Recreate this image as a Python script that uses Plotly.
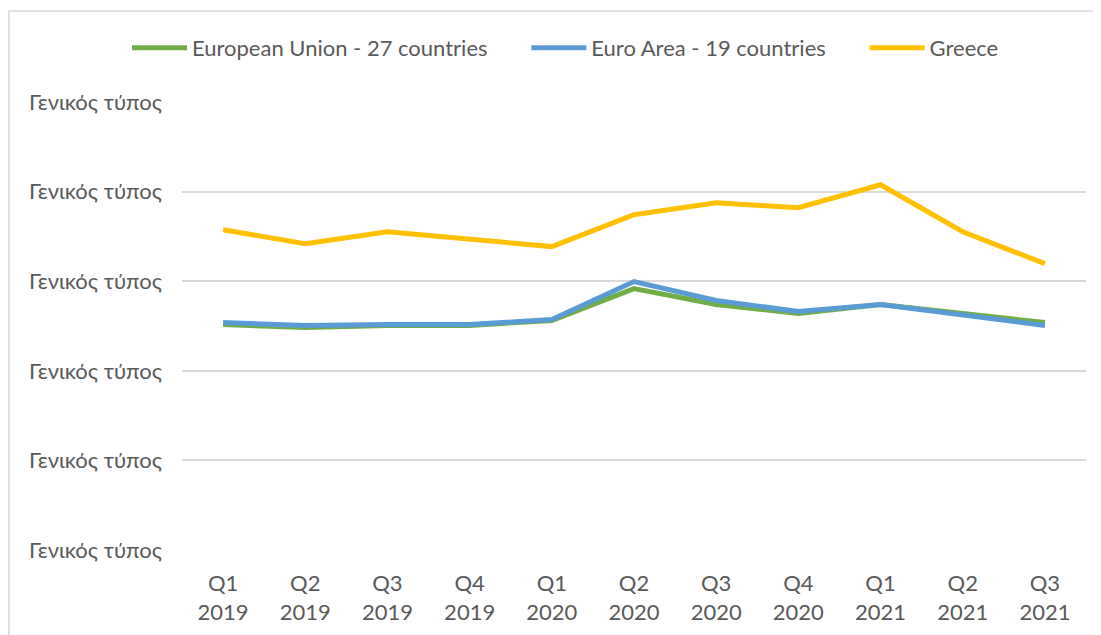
import plotly.graph_objects as go

quarters = ["Q1<br>2019", "Q2<br>2019", "Q3<br>2019", "Q4<br>2019",
            "Q1<br>2020", "Q2<br>2020", "Q3<br>2020", "Q4<br>2020",
            "Q1<br>2021", "Q2<br>2021", "Q3<br>2021"]

eu27 = [12.58, 12.42, 12.53, 12.53, 12.81, 14.59, 13.70, 13.20, 13.70, 13.20, 12.69]
ea19 = [12.69, 12.53, 12.58, 12.58, 12.86, 14.98, 13.92, 13.31, 13.70, 13.08, 12.53]
greece = [17.87, 17.09, 17.76, 17.37, 16.93, 18.71, 19.38, 19.10, 20.38, 17.76, 15.98]

series_names = ["European Union - 27 countries", "Euro Area - 19 countries", "Greece"]
y_tickvals = [0, 5, 10, 15, 20, 25]
y_ticktext = ["Γενικός τύπος"] * len(y_tickvals)

FONT = "Lato"
TXT = "#595959"
PAD = "\u00a0" * 6  # spacing between legend entries

fig = go.Figure()
fig.add_trace(go.Scatter(x=quarters, y=eu27, mode="lines", name=series_names[0] + PAD,
                         line=dict(color="#70AD47", width=5)))
fig.add_trace(go.Scatter(x=quarters, y=ea19, mode="lines", name=series_names[1] + PAD,
                         line=dict(color="#5B9BD5", width=5)))
fig.add_trace(go.Scatter(x=quarters, y=greece, mode="lines", name=series_names[2],
                         line=dict(color="#FFC000", width=5)))

OFF = 8  # page body margin
W, H = 1101 - OFF, 635 - OFF
L, R = 182 - OFF, W - (1086 - OFF)
T, B = 102 - OFF, H - (550 - OFF)
pw, ph = W - L - R, H - T - B

def px_x(sx):
    return (sx - OFF - L) / pw

def px_y(sy):
    return (H - B - (sy - OFF)) / ph

fig.update_layout(
    width=W, height=H,
    margin=dict(l=L, r=R, t=T, b=B, autoexpand=False),
    paper_bgcolor="white", plot_bgcolor="white",
    font=dict(family=FONT, color=TXT, size=22),
    showlegend=True,
    legend=dict(orientation="h", x=px_x(127), xanchor="left",
                y=px_y(48), yanchor="middle",
                font=dict(size=22, color=TXT), itemwidth=55,
                bgcolor="rgba(0,0,0,0)"),
    xaxis=dict(type="category", range=[-0.5, len(quarters) - 0.5],
               showgrid=False, showline=False, ticks="",
               automargin=False, tickfont=dict(size=22, color=TXT),
               ticklabelstandoff=18),
    yaxis=dict(range=[0, 25], tickvals=y_tickvals, ticktext=y_ticktext,
               showgrid=True, gridcolor="#D9D9D9", gridwidth=1.5,
               zeroline=False, showline=False, ticks="", automargin=False,
               tickfont=dict(size=22, color=TXT), ticklabelstandoff=19),
    shapes=[dict(type="rect", xref="paper", yref="paper",
                 x0=px_x(9), x1=px_x(1110), y0=px_y(645), y1=px_y(11),
                 line=dict(color="#D9D9D9", width=1.5), fillcolor="rgba(0,0,0,0)",
                 layer="below")],
)

fig.write_html("out.html")
